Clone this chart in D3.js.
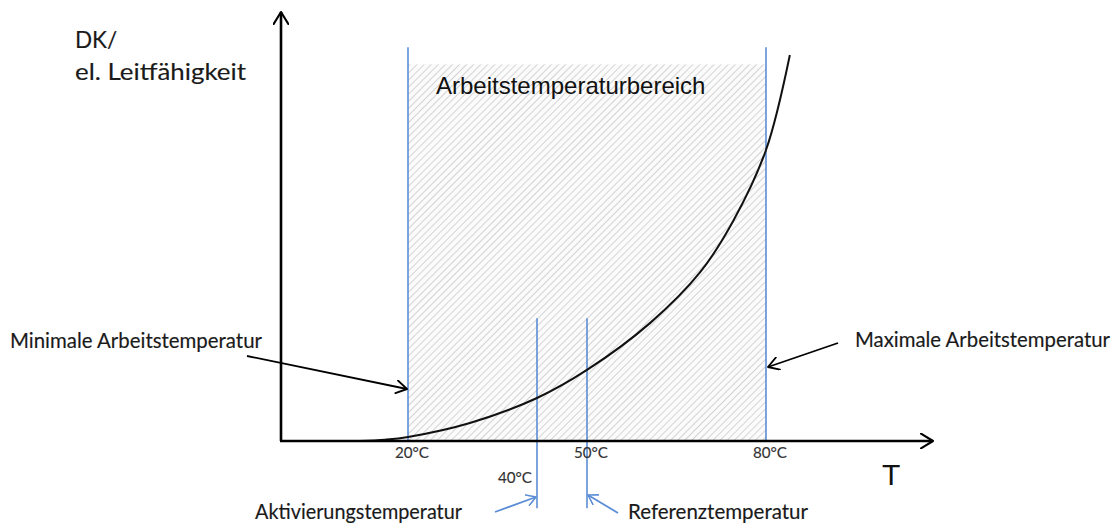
<!DOCTYPE html>
<html>
<head>
<meta charset="utf-8">
<script src="https://cdn.jsdelivr.net/npm/d3@7"></script>
<style>
  html, body { margin: 0; padding: 0; background: #fff; }
  svg { display: block; }
</style>
</head>
<body>
<svg id="chart" width="1114" height="524"></svg>
<script>
// ---- data ----
const curveT = [12.4, 16.4, 20, 29.6, 40, 50, 60.6, 69, 74.5, 80, 84];
const curveV = [0, 0.3, 0.93, 4.2, 10.05, 16.6, 27.6, 39.5, 51.4, 68.0, 90.2];
const rangeTemps = [20, 80];          // working range limits
const markerTemps = [40, 50];         // activation / reference
const tickTemps = [20, 50, 80];
const tickLabels = ["20°C", "50°C", "80°C"];
const activationLabel = "40°C";
const yTitle = ["DK/", "el. Leitfähigkeit"];
const xTitle = "T";
const rangeTitle = "Arbeitstemperaturbereich";
const annMin = "Minimale Arbeitstemperatur";
const annMax = "Maximale Arbeitstemperatur";
const annAct = "Aktivierungstemperatur";
const annRef = "Referenztemperatur";

// ---- scales ----
const x = d3.scaleLinear().domain([0, 20, 40, 50, 80, 108]).range([281, 408, 537, 587, 766, 933]);
const y = d3.scaleLinear().domain([0, 100]).range([441, 13]);

const svg = d3.select("#chart");
const calibri = "Lato, 'Open Sans', sans-serif";
const arial = "'Liberation Sans', Arial, sans-serif";
const blue = "#5b8ed6";

function label(txt, px, py, size, width, anchor, color) {
  const c = color || "#1a1a1a";
  const t = svg.append("text").text(txt)
    .attr("x", px).attr("y", py)
    .attr("font-family", calibri).attr("font-size", size).attr("fill", c)
    .attr("stroke", c).attr("stroke-width", 0.15)
    .attr("text-anchor", anchor || "start");
  if (width) t.attr("textLength", width).attr("lengthAdjust", "spacingAndGlyphs");
  return t;
}

// hatch pattern
const defs = svg.append("defs");
const pat = defs.append("pattern")
  .attr("id", "hatch").attr("patternUnits", "userSpaceOnUse")
  .attr("width", 5).attr("height", 5)
  .attr("patternTransform", "rotate(45)");
pat.append("rect").attr("width", 5).attr("height", 5).attr("fill", "#fbfbfb");
pat.append("line").attr("x1", 0).attr("y1", 0).attr("x2", 0).attr("y2", 5)
  .attr("stroke", "#cbcbcb").attr("stroke-width", 1.6);

// markers
function openHead(id, color, size) {
  defs.append("marker").attr("id", id)
    .attr("viewBox", "-10 -6 12 12").attr("refX", 0).attr("refY", 0)
    .attr("markerUnits", "userSpaceOnUse")
    .attr("markerWidth", size).attr("markerHeight", size)
    .attr("orient", "auto")
    .append("path").attr("d", "M-9,-5.5 L0,0 L-9,5.5")
    .attr("fill", "none").attr("stroke", color).attr("stroke-width", 1.6)
    .attr("stroke-linecap", "round").attr("stroke-linejoin", "round");
}
openHead("hBlack", "#000", 14);
openHead("hAxis", "#000", 16);
openHead("hBlue", blue, 12);

// hatched working range
svg.append("rect")
  .attr("x", x(rangeTemps[0])).attr("y", y(88))
  .attr("width", x(rangeTemps[1]) - x(rangeTemps[0]))
  .attr("height", y(0) - y(88))
  .attr("fill", "url(#hatch)");

svg.append("text").text(rangeTitle)
  .attr("x", 436).attr("y", 94)
  .attr("font-family", arial).attr("font-size", 24).attr("fill", "#111");

// blue range lines
svg.selectAll("line.range").data(rangeTemps).enter().append("line")
  .attr("x1", d => x(d)).attr("x2", d => x(d))
  .attr("y1", y(92)).attr("y2", y(0))
  .attr("stroke", blue).attr("stroke-width", 1.6);

// marker lines (40, 50)
svg.selectAll("line.marker").data(markerTemps).enter().append("line")
  .attr("x1", d => x(d)).attr("x2", d => x(d))
  .attr("y1", y(28.7)).attr("y2", y(-15.7))
  .attr("stroke", blue).attr("stroke-width", 1.6);

// curve
const pts = curveT.map((t, i) => [t, curveV[i]]);
svg.append("path")
  .attr("d", d3.line().x(d => x(d[0])).y(d => y(d[1])).curve(d3.curveCatmullRom.alpha(0.5))(pts))
  .attr("fill", "none").attr("stroke", "#111").attr("stroke-width", 2);

// axes
svg.append("line").attr("x1", x(0)).attr("y1", y(0)).attr("x2", x(0)).attr("y2", y(100) - 1)
  .attr("stroke", "#000").attr("stroke-width", 2.6).attr("marker-end", "url(#hAxis)");
svg.append("line").attr("x1", x(0) - 1).attr("y1", y(0)).attr("x2", x(108)).attr("y2", y(0))
  .attr("stroke", "#000").attr("stroke-width", 2.6).attr("marker-end", "url(#hAxis)");

// tick labels
tickTemps.forEach((d, i) => label(tickLabels[i], x(d) + 4, 458, 16, 34, "middle", "#333"));
label(activationLabel, x(markerTemps[0]) - 5, 483, 16, 34, "end", "#333");

// axis titles
label(yTitle[0], 75, 48, 22.5);
label(yTitle[1], 75, 80, 22.5, 171);
svg.append("text").text(xTitle).attr("x", 882).attr("y", 485)
  .attr("font-family", arial).attr("font-size", 30).attr("fill", "#111");

// annotations
label(annMin, 10, 348, 20.5, 252);
label(annMax, 855, 347, 20.5, 255);
label(annAct, 255, 519, 20.5, 207);
label(annRef, 628, 519, 20.5, 180);

// annotation arrows
svg.append("line").attr("x1", 247).attr("y1", 356).attr("x2", x(rangeTemps[0]) - 1).attr("y2", 389)
  .attr("stroke", "#000").attr("stroke-width", 1.8).attr("marker-end", "url(#hBlack)");
svg.append("line").attr("x1", 838).attr("y1", 343).attr("x2", x(rangeTemps[1]) + 2).attr("y2", 367)
  .attr("stroke", "#000").attr("stroke-width", 1.8).attr("marker-end", "url(#hBlack)");
svg.append("line").attr("x1", 495).attr("y1", 512).attr("x2", x(markerTemps[0]) - 1).attr("y2", 497)
  .attr("stroke", blue).attr("stroke-width", 1.8).attr("marker-end", "url(#hBlue)");
svg.append("line").attr("x1", 618).attr("y1", 513).attr("x2", x(markerTemps[1]) + 1).attr("y2", 495)
  .attr("stroke", blue).attr("stroke-width", 1.8).attr("marker-end", "url(#hBlue)");
</script>
</body>
</html>
